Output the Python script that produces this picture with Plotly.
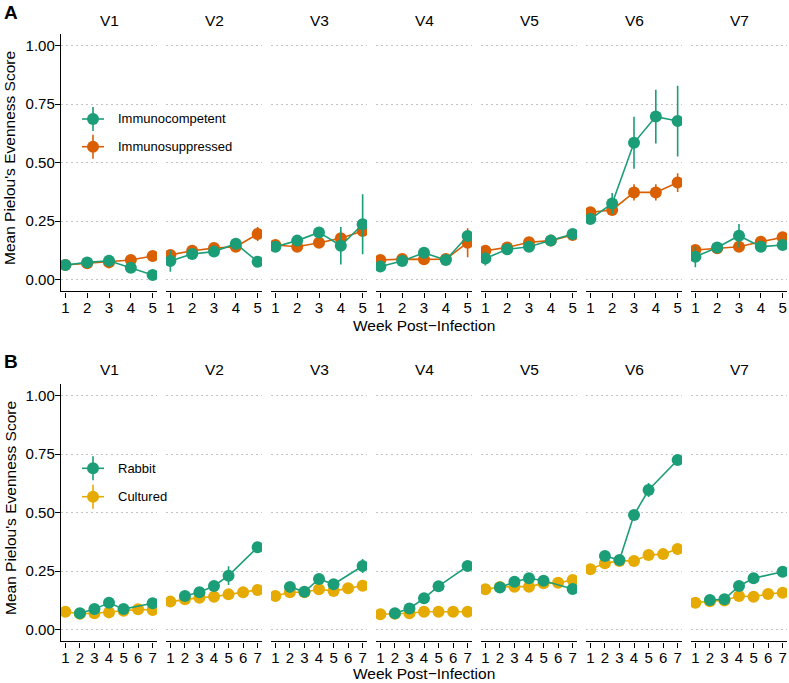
import plotly.graph_objects as go

W, H = 789, 683
regions = ["V1", "V2", "V3", "V4", "V5", "V6", "V7"]
y_ticks = [0, 0.25, 0.5, 0.75, 1.0]
y_tick_text = ["0.00", "0.25", "0.50", "0.75", "1.00"]

# Panel A (weeks 1-5)
weeks_a = [1, 2, 3, 4, 5]
comp_mean = [
    [0.063, 0.074, 0.081, 0.051, 0.020],
    [0.080, 0.110, 0.120, 0.154, 0.077],
    [0.141, 0.167, 0.202, 0.145, 0.237],
    [0.056, 0.080, 0.115, 0.084, 0.187],
    [0.091, 0.130, 0.141, 0.167, 0.195],
    [0.259, 0.326, 0.585, 0.697, 0.678],
    [0.098, 0.138, 0.188, 0.141, 0.148],
]
comp_err = [
    [0.008, 0.008, 0.008, 0.008, 0.008],
    [0.046, 0.010, 0.010, 0.010, 0.010],
    [0.020, 0.010, 0.012, 0.080, 0.128],
    [0.010, 0.010, 0.010, 0.010, 0.020],
    [0.030, 0.010, 0.010, 0.010, 0.010],
    [0.020, 0.045, 0.111, 0.115, 0.151],
    [0.045, 0.010, 0.050, 0.010, 0.010],
]
supp_mean = [
    [0.063, 0.070, 0.074, 0.084, 0.101],
    [0.106, 0.124, 0.135, 0.141, 0.195],
    [0.148, 0.141, 0.158, 0.177, 0.208],
    [0.084, 0.088, 0.087, 0.088, 0.158],
    [0.124, 0.138, 0.160, 0.167, 0.191],
    [0.288, 0.298, 0.373, 0.373, 0.415],
    [0.127, 0.134, 0.141, 0.162, 0.181],
]
supp_err = [
    [0.005, 0.005, 0.005, 0.008, 0.008],
    [0.010, 0.010, 0.010, 0.010, 0.030],
    [0.010, 0.010, 0.010, 0.012, 0.012],
    [0.008, 0.008, 0.008, 0.008, 0.062],
    [0.008, 0.008, 0.010, 0.008, 0.008],
    [0.010, 0.012, 0.035, 0.035, 0.040],
    [0.010, 0.010, 0.010, 0.015, 0.010],
]

# Panel B (weeks 1-7; rabbit lacks weeks 1 and 6)
weeks_cult = [1, 2, 3, 4, 5, 6, 7]
weeks_rabbit = [2, 3, 4, 5, 7]
rabbit_mean = [
    [0.070, 0.088, 0.115, 0.088, 0.113],
    [0.144, 0.160, 0.187, 0.231, 0.352],
    [0.183, 0.162, 0.217, 0.194, 0.272],
    [0.070, 0.091, 0.134, 0.186, 0.272],
    [0.180, 0.205, 0.220, 0.209, 0.174],
    [0.315, 0.298, 0.490, 0.597, 0.725],
    [0.127, 0.130, 0.187, 0.220, 0.248],
]
rabbit_err = [
    [0.006, 0.006, 0.006, 0.006, 0.006],
    [0.008, 0.008, 0.010, 0.040, 0.008],
    [0.008, 0.008, 0.010, 0.008, 0.030],
    [0.006, 0.006, 0.006, 0.006, 0.006],
    [0.008, 0.008, 0.008, 0.008, 0.020],
    [0.010, 0.010, 0.010, 0.030, 0.008],
    [0.006, 0.006, 0.008, 0.008, 0.008],
]
cult_mean = [
    [0.077, 0.068, 0.070, 0.074, 0.081, 0.087, 0.084],
    [0.120, 0.130, 0.137, 0.141, 0.151, 0.160, 0.170],
    [0.144, 0.160, 0.160, 0.173, 0.165, 0.177, 0.188],
    [0.066, 0.068, 0.070, 0.077, 0.077, 0.077, 0.077],
    [0.173, 0.182, 0.184, 0.184, 0.198, 0.201, 0.212],
    [0.258, 0.284, 0.294, 0.294, 0.319, 0.323, 0.345],
    [0.115, 0.122, 0.125, 0.144, 0.141, 0.153, 0.158],
]
cult_err = [[0.005] * 7 for _ in range(7)]

TEAL = "#1B9E77"
ORANGE = "#D95F02"
GOLD = "#E6AB02"
FONT = "Liberation Sans, Arial, sans-serif"

fig = go.Figure()


def px2x(px):
    return px / W


def px2y(py):
    return 1 - py / H


row_ydom = {0: [px2y(291.4), px2y(34)], 1: [px2y(641.4), px2y(384)]}


def add_series(k, xs, ys, err, color):
    ax = "" if k == 1 else str(k)
    fig.add_trace(go.Scatter(
        x=xs, y=ys, mode="lines+markers",
        line=dict(color=color, width=1.6),
        marker=dict(color=color, size=12, line=dict(width=0)),
        error_y=dict(type="data", array=err, visible=True, color=color,
                     thickness=1.6, width=0),
        xaxis="x" + ax, yaxis="y" + ax, showlegend=False, hoverinfo="skip",
    ))


layout_axes = {}
annotations = []
for row in range(2):
    for i, reg in enumerate(regions):
        k = row * 7 + i + 1
        ax = "" if k == 1 else str(k)
        x0 = 61 + 105 * i
        x1 = x0 + 96
        xdom = [px2x(x0), px2x(x1)]
        if row == 0:
            add_series(k, weeks_a, supp_mean[i], supp_err[i], ORANGE)
            add_series(k, weeks_a, comp_mean[i], comp_err[i], TEAL)
            xr = [0.8, 5.2]
            xt = weeks_a
        else:
            add_series(k, weeks_cult, cult_mean[i], cult_err[i], GOLD)
            add_series(k, weeks_rabbit, rabbit_mean[i], rabbit_err[i], TEAL)
            xr = [0.7, 7.3]
            xt = weeks_cult
        first = (i == 0)
        layout_axes["xaxis" + ax] = dict(
            domain=xdom, anchor="y" + ax, range=xr, tickvals=xt,
            showline=True, linecolor="black", linewidth=1.4,
            ticks="outside", ticklen=5, tickwidth=1.4, tickcolor="black",
            ticklabelstandoff=-3,
            tickfont=dict(size=15, color="black", family=FONT),
            showgrid=False, zeroline=False, fixedrange=True,
        )
        layout_axes["yaxis" + ax] = dict(
            domain=row_ydom[row], anchor="x" + ax, range=[-0.05, 1.05],
            tickvals=y_ticks, ticktext=y_tick_text,
            showticklabels=first, showline=first, linecolor="black",
            linewidth=1.4, ticks="outside" if first else "", ticklen=5,
            tickwidth=1.4, tickcolor="black", ticklabelstandoff=-3,
            tickfont=dict(size=15, color="black", family=FONT),
            showgrid=True, gridcolor="#c4c4c4", gridwidth=1.1,
            griddash="1.5px,3.5px", zeroline=False, fixedrange=True,
        )
        strip_y = 20 if row == 0 else 369.5
        annotations.append(dict(
            text=reg, x=px2x((x0 + x1) / 2), y=px2y(strip_y),
            xref="paper", yref="paper", showarrow=False,
            xanchor="center", yanchor="middle",
            font=dict(size=15.5, color="black", family=FONT),
        ))

# axis titles and panel letters
for row, (ty, ycen, letter, ly) in enumerate([(325, 158, "A", 12.7), (673, 508, "B", 361.7)]):
    annotations.append(dict(
        text="Week Post\u2212Infection", x=px2x(424), y=px2y(ty),
        xref="paper", yref="paper", showarrow=False,
        xanchor="center", yanchor="middle",
        font=dict(size=15.5, color="black", family=FONT),
    ))
    annotations.append(dict(
        text="Mean Pielou's Evenness Score", x=px2x(10), y=px2y(ycen),
        xref="paper", yref="paper", showarrow=False, textangle=-90,
        xanchor="center", yanchor="middle",
        font=dict(size=15.5, color="black", family=FONT),
    ))
    annotations.append(dict(
        text="<b>" + letter + "</b>", x=px2x(2), y=px2y(ly),
        xref="paper", yref="paper", showarrow=False,
        xanchor="left", yanchor="middle",
        font=dict(size=19, color="black", family=FONT),
    ))

# manual legends (ggplot style key: point + line + vertical errorbar)
shapes = []
legend_items = [
    ("Immunocompetent", TEAL, 119), ("Immunosuppressed", ORANGE, 146.7),
    ("Rabbit", TEAL, 468.3), ("Cultured", GOLD, 496.7),
]
for label, color, ly in legend_items:
    cx = 93
    shapes.append(dict(type="line", xref="paper", yref="paper",
                       x0=px2x(cx - 11), x1=px2x(cx + 11), y0=px2y(ly), y1=px2y(ly),
                       line=dict(color=color, width=1.6)))
    shapes.append(dict(type="line", xref="paper", yref="paper",
                       x0=px2x(cx), x1=px2x(cx), y0=px2y(ly - 12), y1=px2y(ly + 12),
                       line=dict(color=color, width=1.6)))
    shapes.append(dict(type="circle", xref="paper", yref="paper",
                       x0=px2x(cx - 6), x1=px2x(cx + 6), y0=px2y(ly - 6), y1=px2y(ly + 6),
                       fillcolor=color, line=dict(width=0)))
    annotations.append(dict(
        text=label, x=px2x(116), y=px2y(ly), xref="paper", yref="paper",
        showarrow=False, xanchor="left", yanchor="middle",
        font=dict(size=13, color="black", family=FONT),
    ))

fig.update_layout(
    width=W, height=H, margin=dict(l=0, r=0, t=0, b=0),
    plot_bgcolor="white", paper_bgcolor="white",
    showlegend=False, annotations=annotations, shapes=shapes,
    font=dict(family=FONT, color="black"),
    **layout_axes,
)

fig.write_html("out.html", config={"displayModeBar": False},
               post_script="document.body.style.margin='0';")
